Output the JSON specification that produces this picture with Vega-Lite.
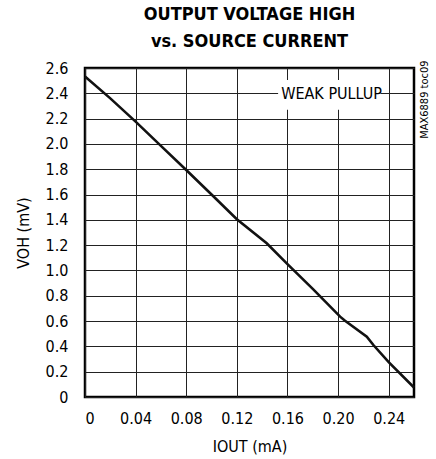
{
  "$schema": "https://vega.github.io/schema/vega-lite/v6.json",
  "width": 329,
  "height": 329,
  "autosize": "none",
  "padding": {"left": 85, "top": 68, "right": 22, "bottom": 62},
  "background": "white",
  "title": {
    "text": ["OUTPUT VOLTAGE HIGH", "vs. SOURCE CURRENT"],
    "font": "Liberation Sans Narrow, DejaVu Sans Condensed, Liberation Sans, sans-serif",
    "fontSize": 18,
    "fontWeight": "bold",
    "lineHeight": 27,
    "anchor": "middle",
    "color": "black",
    "offset": 9
  },
  "config": {
    "font": "Liberation Sans Narrow, DejaVu Sans Condensed, Liberation Sans, sans-serif",
    "view": {"stroke": "black", "strokeWidth": 2.5},
    "axis": {
      "labelFont": "Liberation Sans Narrow, DejaVu Sans Condensed, Liberation Sans, sans-serif",
      "titleFont": "Liberation Sans Narrow, DejaVu Sans Condensed, Liberation Sans, sans-serif",
      "labelFontSize": 16,
      "titleFontSize": 16,
      "titleFontWeight": "normal",
      "labelColor": "black",
      "titleColor": "black",
      "gridColor": "#222",
      "gridWidth": 1,
      "gridOpacity": 1,
      "ticks": false,
      "domain": false,
      "labelOverlap": false
    }
  },
  "datasets": {
    "curve": [
      {"x": 0, "y": 2.532},
      {"x": 0.02, "y": 2.36},
      {"x": 0.04, "y": 2.176},
      {"x": 0.06, "y": 1.985},
      {"x": 0.08, "y": 1.794},
      {"x": 0.10, "y": 1.60},
      {"x": 0.12, "y": 1.405},
      {"x": 0.1436, "y": 1.215},
      {"x": 0.16, "y": 1.05},
      {"x": 0.18, "y": 0.855},
      {"x": 0.2016, "y": 0.635},
      {"x": 0.2055, "y": 0.603},
      {"x": 0.2227, "y": 0.477},
      {"x": 0.2279, "y": 0.411},
      {"x": 0.24, "y": 0.275},
      {"x": 0.26, "y": 0.075}
    ],
    "box": [
      {"x": 0.1526, "x2": 0.2335, "y": 2.27, "y2": 2.505}
    ],
    "label": [
      {"x": 0.1949, "y": 2.395, "text": "WEAK PULLUP"}
    ],
    "code": [
      {"x": 0.2688, "y": 2.35, "text": "MAX6889 toc09"}
    ]
  },
  "encoding": {
    "x": {
      "field": "x", "type": "quantitative",
      "scale": {"domain": [0, 0.26], "nice": false},
      "axis": {
        "values": [0, 0.04, 0.08, 0.12, 0.16, 0.2, 0.24],
        "labelExpr": "datum.value == 0 ? '0' : format(datum.value, '.2f')",
        "labelOverlap": false,
        "labelPadding": 13,
        "title": "IOUT (mA)",
        "titlePadding": 12
      }
    },
    "y": {
      "field": "y", "type": "quantitative",
      "scale": {"domain": [0, 2.6], "nice": false},
      "axis": {
        "values": [0, 0.2, 0.4, 0.6, 0.8, 1.0, 1.2, 1.4, 1.6, 1.8, 2.0, 2.2, 2.4, 2.6],
        "labelExpr": "datum.value == 0 ? '0' : format(datum.value, '.1f')",
        "labelOverlap": false,
        "labelBound": false,
        "labelFlush": false,
        "labelPadding": 17,
        "title": "VOH (mV)",
        "titlePadding": 14
      }
    }
  },
  "layer": [
    {
      "data": {"name": "box"},
      "mark": {"type": "rect", "fill": "white", "stroke": null},
      "encoding": {
        "x2": {"field": "x2"},
        "y2": {"field": "y2"}
      }
    },
    {
      "data": {"name": "curve"},
      "mark": {"type": "line", "color": "#111", "strokeWidth": 2.6}
    },
    {
      "data": {"name": "label"},
      "mark": {"type": "text", "fontSize": 16, "color": "black", "baseline": "middle", "align": "center"},
      "encoding": {
        "text": {"field": "text"}
      }
    },
    {
      "data": {"name": "code"},
      "mark": {"type": "text", "fontSize": 11, "color": "black", "baseline": "middle", "align": "center", "angle": 270, "clip": false},
      "encoding": {
        "text": {"field": "text"}
      }
    }
  ]
}
